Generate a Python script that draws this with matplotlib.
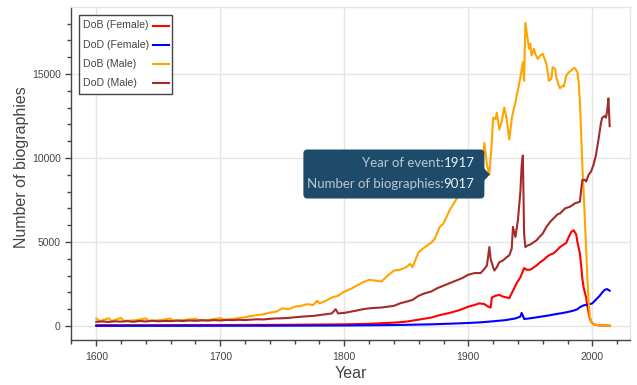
"""Biographies per year: births and deaths by gender."""

import matplotlib
matplotlib.use('Agg')
import matplotlib.pyplot as plt
import matplotlib.transforms as mtransforms
from matplotlib.patches import FancyBboxPatch, Polygon, Rectangle
from matplotlib.lines import Line2D
from matplotlib.ticker import MultipleLocator

plt.rcParams['font.family'] = ['Liberation Sans', 'DejaVu Sans']

# ---- data ----
dob_female_years = [1600, 1650, 1700, 1750, 1800, 1820, 1840, 1850, 1860, 1870, 1877, 1885,
                    1893, 1900, 1905, 1909, 1913, 1916, 1918, 1919, 1922, 1925, 1928, 1931,
                    1933, 1936, 1939, 1942, 1945, 1947, 1950, 1953, 1955, 1958, 1961, 1963,
                    1966, 1968, 1970, 1972, 1974, 1977, 1979, 1981, 1983, 1985, 1987, 1988,
                    1990, 1991, 1992, 1993, 1995, 1996, 1997, 1998, 1999, 2001, 2005, 2014]
dob_female = [50, 50, 60, 70, 100, 130, 200, 260, 380, 500, 650, 780,
              950, 1150, 1250, 1350, 1300, 1150, 1100, 1700, 1800, 1850, 1750, 1700,
              1650, 2100, 2550, 2900, 3450, 3350, 3350, 3500, 3600, 3800, 3950, 4100,
              4250, 4300, 4400, 4550, 4700, 4850, 4950, 5300, 5600, 5700, 5450, 5000,
              4300, 3600, 2800, 2300, 1700, 1200, 800, 450, 250, 100, 40, 20]

dod_female_years = [1600, 1700, 1750, 1800, 1830, 1850, 1870, 1890, 1900, 1910, 1920, 1930,
                    1938, 1942, 1943, 1944, 1945, 1948, 1952, 1958, 1965, 1970, 1975, 1980,
                    1985, 1988, 1990, 1993, 1995, 1998, 2000, 2002, 2004, 2006, 2008, 2010,
                    2012, 2014]
dod_female = [10, 15, 20, 30, 50, 70, 100, 150, 180, 220, 280, 350,
              450, 560, 780, 620, 420, 440, 480, 550, 630, 700, 760, 830,
              920, 1000, 1120, 1230, 1260, 1300, 1350, 1500, 1650, 1800, 2000, 2150,
              2200, 2100]

dob_male_years = [1600, 1603, 1610, 1612, 1620, 1622, 1630, 1640, 1642, 1650, 1660, 1662,
                  1670, 1680, 1683, 1690, 1700, 1703, 1710, 1715, 1720, 1725, 1730, 1735,
                  1740, 1745, 1750, 1755, 1760, 1765, 1770, 1775, 1778, 1780, 1785, 1790,
                  1795, 1800, 1805, 1810, 1815, 1820, 1825, 1830, 1835, 1840, 1845, 1850,
                  1853, 1855, 1860, 1865, 1870, 1873, 1877, 1880, 1885, 1890, 1893, 1897,
                  1900, 1903, 1906, 1909, 1911, 1913, 1915, 1917, 1919, 1920, 1922, 1923,
                  1925, 1927, 1929, 1931, 1933, 1935, 1936, 1938, 1939, 1941, 1942, 1944,
                  1945, 1946, 1948, 1949, 1950, 1951, 1953, 1954, 1956, 1958, 1960, 1962,
                  1963, 1965, 1967, 1968, 1970, 1971, 1973, 1974, 1976, 1977, 1979, 1981,
                  1983, 1985, 1986, 1988, 1989, 1990, 1991, 1992, 1993, 1994, 1995, 1996,
                  1997, 1998, 1999, 2000, 2002, 2005, 2010, 2014]
dob_male = [450, 300, 460, 300, 480, 310, 330, 450, 320, 340, 440, 330,
            350, 430, 340, 360, 470, 380, 420, 480, 520, 600, 650, 700,
            800, 850, 1050, 1000, 1150, 1200, 1300, 1250, 1500, 1350, 1500, 1700,
            1800, 2050, 2200, 2400, 2600, 2750, 2700, 2650, 3000, 3300, 3350, 3500,
            3700, 3500, 4400, 4700, 4950, 5200, 5900, 6100, 6900, 7500, 7900, 8300,
            8500, 8800, 9300, 9800, 9600, 10900, 9600, 9017, 11000, 12400, 12300, 12700,
            11700, 12200, 13000, 12300, 11100, 12300, 12700, 13300, 13700, 14400, 14800, 15700,
            14600, 18050, 17000, 16500, 16800, 16100, 16500, 16200, 15900, 16100, 16200, 15800,
            15600, 14600, 14700, 15400, 15300, 14800, 14300, 14150, 14300, 14250, 14900, 15100,
            15200, 15350, 15350, 15100, 14500, 13300, 11500, 9500, 8000, 6300, 4700, 2900,
            1500, 600, 300, 150, 80, 40, 20, 10]

dod_male_years = [1600, 1605, 1610, 1615, 1620, 1625, 1630, 1635, 1640, 1645, 1650, 1655,
                  1660, 1665, 1670, 1675, 1680, 1685, 1690, 1695, 1700, 1705, 1710, 1715,
                  1720, 1725, 1730, 1735, 1740, 1745, 1750, 1755, 1760, 1765, 1770, 1775,
                  1780, 1785, 1790, 1793, 1795, 1800, 1805, 1810, 1815, 1820, 1825, 1830,
                  1835, 1840, 1845, 1850, 1855, 1860, 1865, 1870, 1875, 1880, 1885, 1890,
                  1895, 1900, 1905, 1910, 1913, 1915, 1917, 1918, 1920, 1921, 1923, 1925,
                  1928, 1931, 1933, 1935, 1936, 1938, 1940, 1942, 1943, 1944, 1945, 1946,
                  1948, 1950, 1953, 1955, 1958, 1960, 1963, 1966, 1968, 1970, 1972, 1974,
                  1976, 1978, 1980, 1982, 1984, 1986, 1988, 1990, 1991, 1992, 1994, 1995,
                  1997, 1999, 2001, 2003, 2005, 2007, 2008, 2010, 2011, 2012, 2013, 2014]
dod_male = [250, 270, 240, 280, 260, 290, 250, 300, 270, 310, 280, 300,
            290, 320, 300, 330, 310, 340, 320, 350, 330, 360, 350, 370,
            350, 380, 400, 390, 430, 450, 460, 480, 520, 550, 580, 600,
            650, 700, 750, 1000, 750, 780, 850, 920, 1000, 1050, 1080, 1100,
            1150, 1200, 1350, 1450, 1550, 1800, 1950, 2050, 2250, 2400, 2550, 2700,
            2850, 3050, 3150, 3150, 3400, 3600, 4700, 4000, 3500, 3300, 3500, 3800,
            3900, 4100, 4200, 4600, 5900, 5300, 6300, 8000, 9500, 10150, 5500, 4700,
            4800, 4850, 5000, 5100, 5350, 5500, 5900, 6200, 6350, 6500, 6650, 6700,
            6850, 7000, 7050, 7100, 7200, 7300, 7350, 7400, 8100, 8700, 8700, 8600,
            9000, 9200, 9600, 10200, 11100, 12100, 12400, 12500, 12400, 12800, 13550, 11900]

series_labels = ['DoB (Female)', 'DoD (Female)', 'DoB (Male)', 'DoD (Male)']
series_colors = ['red', 'blue', 'orange', 'brown']

tip_year, tip_count = 1917, 9017

W, H = 637, 385
fig = plt.figure(figsize=(W / 100, H / 100), dpi=100)
ax = fig.add_axes([71 / W, 1 - 340 / H, (630 - 71) / W, (340 - 7) / H])

series = [(dob_female_years, dob_female), (dod_female_years, dod_female),
          (dob_male_years, dob_male), (dod_male_years, dod_male)]
for (xs, ys), c in zip(series, series_colors):
    ax.plot(xs, ys, color=c, lw=1.5, solid_joinstyle='round')

ax.set_xlim(1579.6, 2030.4)
ax.set_ylim(-833, 18988)

ax.xaxis.set_major_locator(MultipleLocator(100))
ax.xaxis.set_minor_locator(MultipleLocator(20))
ax.yaxis.set_major_locator(MultipleLocator(5000))
ax.yaxis.set_minor_locator(MultipleLocator(1000))
ax.tick_params(which='both', direction='out', color='#444444', width=1,
               labelsize=7.5, labelcolor='#444444', top=False, right=False)
ax.tick_params(which='major', length=4.5, pad=3)
ax.tick_params(axis='x', which='major', pad=4.5)
ax.tick_params(which='minor', length=3)
ax.grid(which='major', color='#e5e5e5', lw=1)
ax.set_axisbelow(True)
for s in ['left', 'bottom']:
    ax.spines[s].set_color('#444444')
    ax.spines[s].set_linewidth(1)
for s in ['top', 'right']:
    ax.spines[s].set_color('#e5e5e5')
    ax.spines[s].set_linewidth(1)

ax.set_xlabel('Year', fontsize=11.5, color='#444444')
ax.set_ylabel('Number of biographies', fontsize=11.5, color='#444444')
ax.xaxis.set_label_coords(0.5, -0.078)
ax.yaxis.set_label_coords(-0.075, 0.52)

# ---- legend, drawn by hand in pixel coords (y down) ----
px = mtransforms.Affine2D().scale(1 / W, -1 / H).translate(0, 1) + fig.transFigure
fig.patches.append(Rectangle((79, 15), 93, 79, transform=px, fc='white',
                             ec='#444444', lw=1, zorder=5))
for i, (lab, c) in enumerate(zip(series_labels, series_colors)):
    yy = 25.5 + i * 19.2
    fig.text(83, yy, lab, transform=px, fontsize=7.6, color='#444444',
             ha='left', va='center', zorder=6)
    fig.lines.append(Line2D([153, 169], [yy, yy], transform=px, color=c, lw=1.5, zorder=6))

# ---- hover tooltip, pixel offsets from the hovered point (y up) ----
tip = mtransforms.IdentityTransform() + mtransforms.ScaledTranslation(tip_year, tip_count, ax.transData)
tip_bg = '#1f4b6b'
ax.add_patch(FancyBboxPatch((-186, -24), 181, 49, boxstyle='round,pad=0,rounding_size=4',
                            transform=tip, fc=tip_bg, ec='none', zorder=10, clip_on=False))
ax.add_patch(Polygon([(-6, 7), (0.5, 0), (-6, -7)], closed=True, transform=tip,
                     fc=tip_bg, ec='none', zorder=10, clip_on=False))
tip_rows = [('Year of event:', str(tip_year), 5.5), ('Number of biographies:', str(tip_count), -15.5)]
for lab, val, dy in tip_rows:
    t = ax.text(-15, dy, val, transform=tip, fontsize=9.5, color='#eef2f4',
                ha='right', va='bottom', zorder=11, family=['Lato', 'DejaVu Sans'])
    ax.annotate(lab, xy=(0, 0), xycoords=t, ha='right', va='bottom', fontsize=9.5,
                color='#b9c7d1', zorder=11, family=['Lato', 'DejaVu Sans'])

fig.savefig('out.png', dpi=100, facecolor='white')
